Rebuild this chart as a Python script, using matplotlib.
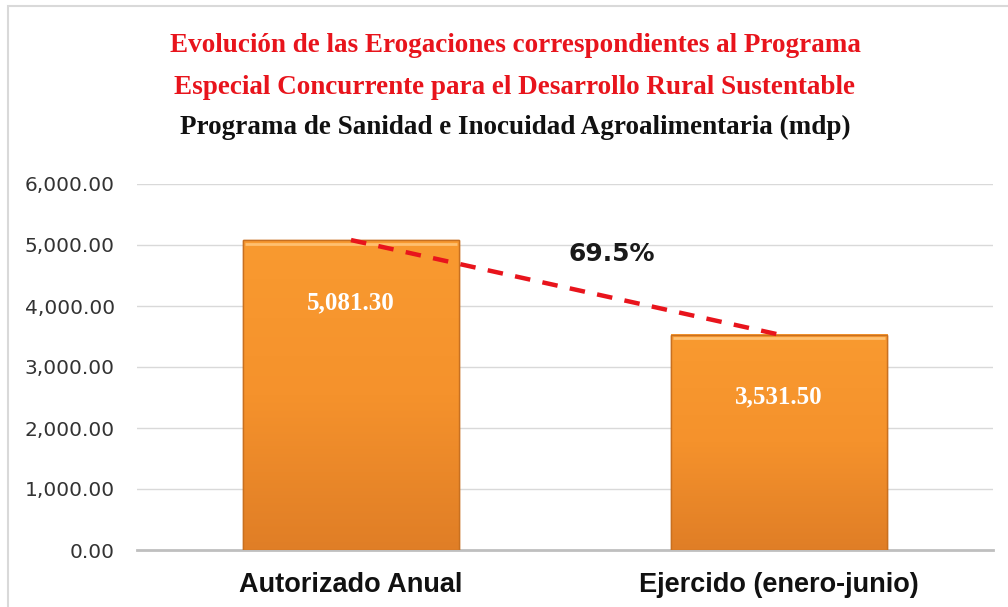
import matplotlib
matplotlib.use("Agg")
import matplotlib.pyplot as plt
import numpy as np
from matplotlib.patches import Rectangle
from matplotlib.colors import LinearSegmentedColormap

categories = ["Autorizado Anual", "Ejercido (enero-junio)"]
values = [5081.30, 3531.50]
value_labels = ["5,081.30", "3,531.50"]
pct_label = "69.5%"
yticks = [0, 1000, 2000, 3000, 4000, 5000, 6000]
title_lines = ["Evolución de las Erogaciones correspondientes al Programa",
               "Especial Concurrente para el Desarrollo Rural Sustentable",
               "Programa de Sanidad e Inocuidad Agroalimentaria (mdp)"]

W, H = 1008, 607
fig = plt.figure(figsize=(W / 100, H / 100), dpi=100)
fig.patch.set_facecolor("white")
# outer light border (top and left visible)
fig.add_artist(Rectangle((8 / W, -0.05), 1.1, 1.05 - 6 / H, transform=fig.transFigure,
                         fill=False, edgecolor="#d9d9d9", linewidth=1.5))

ax = fig.add_axes([137 / W, (H - 550) / H, 856 / W, 366 / H])

x = np.arange(len(categories))
bw = 0.505
bars = ax.bar(x, values, width=bw, color="#F7922A", edgecolor="#C96A14",
              linewidth=1.0, zorder=3)

# gradient shading on each bar
cmap = LinearSegmentedColormap.from_list("org", ["#E07E26", "#F5922C", "#F99A30"])
grad = np.linspace(0, 1, 256).reshape(-1, 1)
for b in bars:
    x0, y0 = b.get_x(), b.get_y()
    w, h = b.get_width(), b.get_height()
    ax.imshow(grad, cmap=cmap, aspect="auto", origin="lower",
              extent=(x0, x0 + w, y0, y0 + h), zorder=3.5)
    ax.plot([x0 + w * 0.01, x0 + w * 0.99], [y0 + h - 60, y0 + h - 60],
            color="#FFC070", lw=2, zorder=4, solid_capstyle="butt")
    ax.add_patch(Rectangle((x0, y0), w, h, fill=False, edgecolor="#C87020",
                           lw=1.0, zorder=4.5))
ax.set_xlim(-0.5, 1.5)
ax.set_ylim(0, 6000)

for xi, v, lab in zip(x, values, value_labels):
    ax.annotate(lab, (xi, v), xytext=(0, -45), textcoords="offset points",
                ha="center", va="center", color="white", fontsize=18,
                fontweight="bold", family="Liberation Serif", zorder=6)

# dashed trend line between bar tops
ax.plot(x, values, color="#E8141C", lw=3.2, ls=(0, (3.5, 2.8)), zorder=5)
ax.text(0.61, 4850, pct_label, ha="center", va="center", fontsize=18,
        fontweight="bold", family="DejaVu Sans", color="#1a1a1a", zorder=6)

ax.set_yticks(yticks)
ax.set_yticklabels([f"{t:,.2f}" for t in yticks], family="DejaVu Sans",
                   fontsize=14.5, color="#333333")
ax.set_xticks(x)
ax.set_xticklabels(categories, family="Liberation Sans", fontsize=19.5,
                   fontweight="bold", color="#111111")
ax.tick_params(axis="both", length=0)
ax.tick_params(axis="y", pad=16)
ax.tick_params(axis="x", pad=16)
ax.grid(axis="y", color="#d9d9d9", lw=1.0, zorder=0)
for s in ["top", "right", "left"]:
    ax.spines[s].set_visible(False)
ax.spines["bottom"].set_color("#bfbfbf")
ax.spines["bottom"].set_linewidth(2)

ys = [45, 87, 127]
cols = ["#E8141C", "#E8141C", "#111111"]
for t, yy, c in zip(title_lines, ys, cols):
    fig.text(515 / W, 1 - yy / H, t, ha="center", va="center", fontsize=19.5,
             fontweight="bold", family="Liberation Serif", color=c)

fig.savefig("out.png", dpi=100)
